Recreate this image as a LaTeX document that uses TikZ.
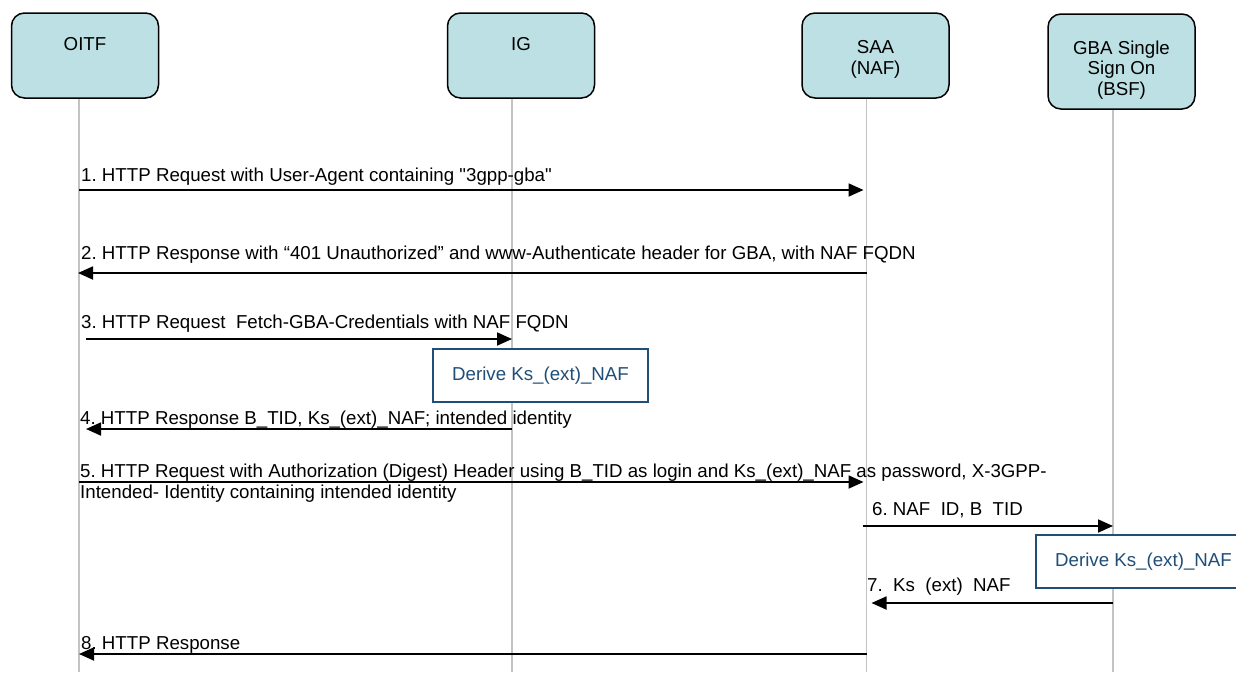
\documentclass[tikz,border=0pt]{standalone}
\usepackage{fontspec}
\setmainfont{Liberation Sans}
\usetikzlibrary{arrows.meta,positioning}
\definecolor{actorfill}{RGB}{188,224,227}
\definecolor{derive}{RGB}{31,78,121}
\definecolor{lifegray}{RGB}{195,195,195}
\frenchspacing

\begin{document}
\begin{tikzpicture}[x=1pt,y=-1pt,
  font=\fontsize{18.7}{21}\selectfont,
  actor/.style={draw,line width=1.5pt,rounded corners=13pt,fill=actorfill,minimum width=147pt,minimum height=85pt,inner sep=0pt},
  actorname/.style={align=center,inner sep=0pt,font=\fontsize{18.7}{20.5}\selectfont},
  life/.style={draw=lifegray,line width=1.5pt},
  msg/.style={line width=1.8pt,-{Triangle[length=15pt,width=13pt]}},
  msglabel/.style={anchor=base west,inner sep=0pt},
  derivebox/.style={draw=derive,line width=1.5pt,text=derive,fill=white,minimum width=215pt,minimum height=53pt}]
  \useasboundingbox (0,0) rectangle (1236,672);

  \node[actor] (oitf) at (85,55.5) {};
  \node[actor] (ig) at (521,55.5) {};
  \node[actor] (saa) at (875.5,55.5) {};
  \node[actor,minimum height=95pt] (bsf) at (1121.5,61.5) {};
  \node[actorname,below=25pt of oitf.north] (oitfname) {OITF};
  \node[actorname,below=25pt of ig.north] (igname) {IG};
  \node[actorname,below=28pt of saa.north] (saaname) {SAA\\(NAF)};
  \node[actorname,below=27pt of bsf.north] (bsfname) {GBA Single\\Sign On\\(BSF)};

  \coordinate (oitfL) at ([xshift=-6pt]oitf.south);
  \coordinate (igL) at ([xshift=-9pt]ig.south);
  \coordinate (saaL) at ([xshift=-9pt]saa.south);
  \coordinate (bsfL) at ([xshift=-8.5pt]bsf.south);
  \foreach \l in {oitfL,igL,saaL,bsfL}
    \draw[life] (\l) -- (\l |- 0,672);

  \draw[msg,shorten >=3pt] (oitfL |- 0,190) -- (saaL |- 0,190);
  \node[msglabel] (m1) at (81,181) {1. HTTP Request with User-Agent containing \textquotedbl 3gpp-gba\textquotedbl};

  \draw[msg,shorten >=-1pt] (saaL |- 0,273) -- (oitfL |- 0,273);
  \node[msglabel] (m2) at (81,259) {2. HTTP Response with “401 Unauthorized” and www-Authenticate header for GBA, with NAF FQDN};

  \draw[msg,shorten <=7pt] (oitfL |- 0,339) -- (igL |- 0,339);
  \node[msglabel] (m3) at (81,328) {3. HTTP Request\ \ Fetch-GBA-Credentials with NAF FQDN};

  \node[derivebox] (derive1) at (540.5,375.5) {Derive Ks\_(ext)\_NAF};

  \draw[msg,shorten >=7pt] (igL |- 0,429) -- (oitfL |- 0,429);
  \node[msglabel] (m4) at (80,424) {4. HTTP Response B\_TID, Ks\_(ext)\_NAF; intended identity};

  \draw[msg,shorten >=3pt] (oitfL |- 0,482) -- (saaL |- 0,482);
  \node[msglabel,align=left] (m5) at (80,498) {5. HTTP Request with Authorization (Digest) Header using B\_TID as login and Ks\_(ext)\_NAF as password, X-3GPP-\\Intended- Identity containing intended identity};

  \draw[msg,shorten <=-4pt] (saaL |- 0,526) -- (bsfL |- 0,526);
  \node[msglabel] (m6) at (872,515) {6. NAF\ \ ID, B\ \ TID};

  \node[derivebox] (derive2) at (1143.5,561.5) {Derive Ks\_(ext)\_NAF};

  \draw[msg,shorten >=5pt] (bsfL |- 0,603) -- (saaL |- 0,603);
  \node[msglabel] (m7) at (867,591) {7.\ \ Ks\ \ (ext)\ \ NAF};

  \draw[msg,shorten >=0pt] (saaL |- 0,654) -- (oitfL |- 0,654);
  \node[msglabel] (m8) at (81,649) {8. HTTP Response};
\end{tikzpicture}
\end{document}
